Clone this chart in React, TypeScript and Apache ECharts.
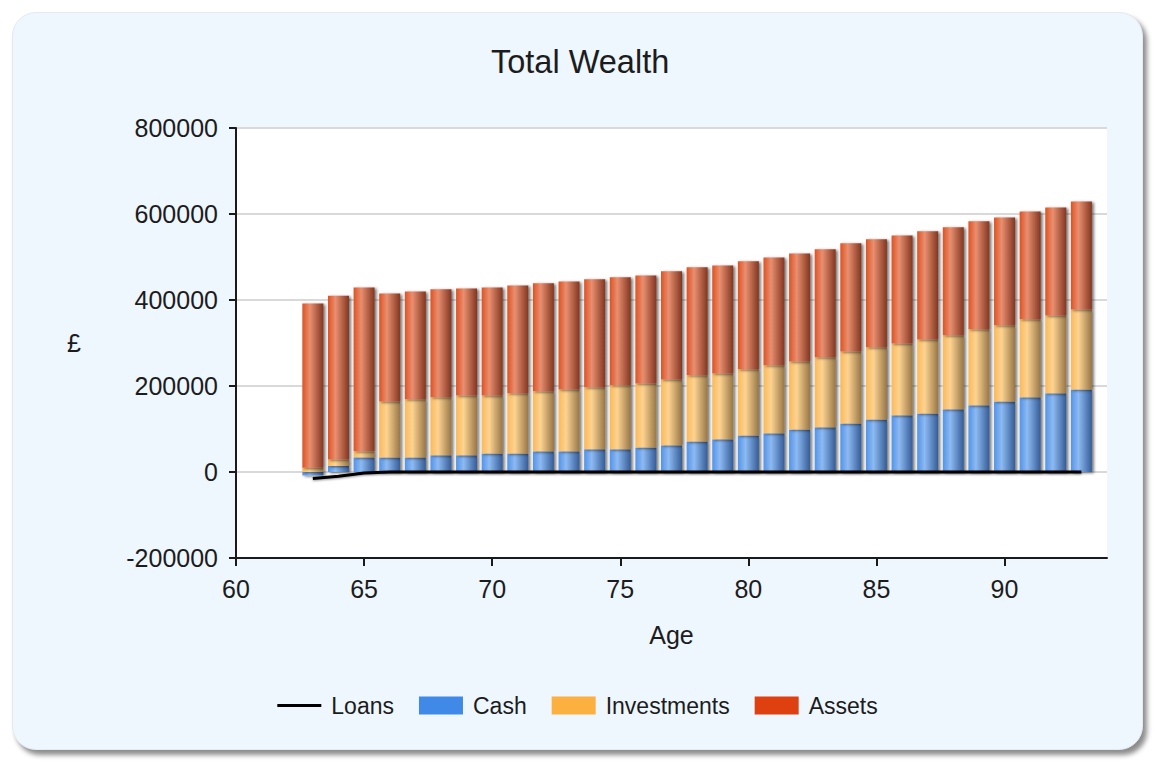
import React, { useEffect, useRef } from "react";
import * as echarts from "echarts";

// Ages along the horizontal axis (tick every 5 years)
const axisAges = [
  60, 61, 62, 63, 64, 65, 66, 67, 68, 69, 70, 71, 72, 73, 74, 75, 76, 77,
  78, 79, 80, 81, 82, 83, 84, 85, 86, 87, 88, 89, 90, 91, 92, 93, 94,
];

// Age of each year-end snapshot
const ages = [
  63, 64, 65, 66, 67, 68, 69, 70, 71, 72, 73, 74, 75, 76, 77, 78,
  79, 80, 81, 82, 83, 84, 85, 86, 87, 88, 89, 90, 91, 92, 93,
];

// Wealth components (£)
const cash = [
  -8000, 14000, 34000, 34000, 34000, 39000, 39000, 43000, 43000, 48000, 48000,
  53000, 53000, 57000, 62000, 71000, 76000, 85000, 90000, 99000, 104000, 113000,
  122000, 132000, 136000, 146000, 155000, 164000, 174000, 183000, 192000,
];
const investments = [
  10000, 15000, 14000, 130000, 135000, 135000, 139000, 135000, 140000, 140000,
  144000, 144000, 149000, 149000, 153000, 154000, 153000, 154000, 158000,
  158000, 163000, 167000, 168000, 167000, 172000, 172000, 177000, 177000,
  181000, 181000, 186000,
];
const assets = [
  382000, 381000, 381000, 251000, 251000, 251000, 249000, 251000, 251000,
  251000, 251000, 251000, 251000, 251000, 252000, 251000, 251000, 251000,
  251000, 251000, 251000, 252000, 251000, 251000, 252000, 251000, 251000,
  251000, 251000, 251000, 251000,
];
const loans = [
  -15000, -10000, -2500, 0, 0, 0, 0, 0, 0, 0, 0, 0, 0, 0, 0, 0, 0, 0, 0, 0, 0,
  0, 0, 0, 0, 0, 0, 0, 0, 0, 0,
];

const yTicks = { min: -200000, max: 800000, step: 200000 };
const X_LABEL_EVERY = 5;

const FONT = "'Liberation Sans', Arial, sans-serif";
const TEXT = "#1c1c1c";

// Horizontal "cylinder" shading for the bar segments
const shade = (left: string, light: string, right: string) =>
  new echarts.graphic.LinearGradient(0, 0, 1, 0, [
    { offset: 0, color: left },
    { offset: 0.36, color: light },
    { offset: 1, color: right },
  ]);

// Spread a per-snapshot series over the full age axis (empty where no data)
const onAxis = (vals: number[]) =>
  axisAges.map((a) => {
    const i = ages.indexOf(a);
    return i < 0 ? null : vals[i];
  });

export default function App() {
  const ref = useRef<HTMLDivElement>(null);

  useEffect(() => {
    document.body.style.margin = "0";
    if (!ref.current) return;
    const chart = echarts.init(ref.current, undefined, { renderer: "svg" });

    const barCommon = {
      type: "bar" as const,
      stack: "wealth",
      barWidth: 21,
      z: 2,
    };
    const barShadow = {
      shadowBlur: 3,
      shadowColor: "rgba(0,0,0,0.55)",
      shadowOffsetX: 2,
      shadowOffsetY: 1,
    };

    chart.setOption({
      animation: false,
      backgroundColor: "transparent",
      title: {
        text: "Total Wealth",
        left: 491,
        top: 45,
        padding: 0,
        textStyle: {
          fontFamily: FONT,
          fontSize: 32.5,
          fontWeight: "normal",
          color: TEXT,
        },
      },
      legend: {
        left: "center",
        top: 689,
        itemWidth: 44,
        itemHeight: 18,
        itemGap: 25,
        symbolKeepAspect: true,
        textStyle: {
          fontFamily: FONT,
          fontSize: 23,
          color: TEXT,
          padding: [0, 0, 0, 5],
        },
        data: [
          {
            name: "Loans",
            icon: "path://M0,0H44V3H0Z",
            itemStyle: { color: "#000000" },
          },
          { name: "Cash", icon: "rect", itemStyle: { color: "#4189e6" } },
          { name: "Investments", icon: "rect", itemStyle: { color: "#fbb040" } },
          { name: "Assets", icon: "rect", itemStyle: { color: "#df400f" } },
        ],
      },
      grid: {
        left: 236,
        top: 128,
        right: 48,
        bottom: 206,
        show: true,
        backgroundColor: "#ffffff",
        borderWidth: 0,
      },
      xAxis: {
        type: "category",
        data: axisAges,
        boundaryGap: false,
        name: "Age",
        nameLocation: "middle",
        nameGap: 64,
        nameTextStyle: { fontFamily: FONT, fontSize: 25, color: TEXT },
        axisLine: { onZero: false, lineStyle: { color: "#1a1a1a", width: 2 } },
        axisTick: {
          show: true,
          length: 8,
          interval: X_LABEL_EVERY - 1,
          lineStyle: { color: "#1a1a1a", width: 2 },
        },
        axisLabel: {
          interval: X_LABEL_EVERY - 1,
          fontFamily: FONT,
          fontSize: 25,
          color: TEXT,
          margin: 18,
        },
        splitLine: { show: false },
      },
      yAxis: {
        type: "value",
        min: yTicks.min,
        max: yTicks.max,
        interval: yTicks.step,
        name: "£",
        nameLocation: "middle",
        nameRotate: 0,
        nameGap: 155,
        nameTextStyle: { fontFamily: FONT, fontSize: 25, color: TEXT },
        axisLine: { show: true, lineStyle: { color: "#1a1a1a", width: 2 } },
        axisTick: { show: true, length: 7, lineStyle: { color: "#1a1a1a", width: 2 } },
        axisLabel: {
          fontFamily: FONT,
          fontSize: 25,
          color: TEXT,
          margin: 18,
          formatter: (v: number) => String(v),
        },
        splitLine: { show: true, lineStyle: { color: "#d9d9d9", width: 2 } },
      },
      series: [
        {
          name: "Loans",
          type: "line",
          data: onAxis(loans),
          symbol: "none",
          z: 4,
          color: "#000000",
          lineStyle: {
            color: "#000000",
            width: 3,
            shadowBlur: 2,
            shadowColor: "rgba(0,0,0,0.4)",
            shadowOffsetY: 1,
          },
        },
        {
          ...barCommon,
          name: "Cash",
          data: onAxis(cash),
          color: "#4189e6",
          itemStyle: {
            color: shade("#5393e8", "#8dbaf2", "#355c96"),
            ...barShadow,
          },
        },
        {
          ...barCommon,
          name: "Investments",
          data: onAxis(investments),
          color: "#fbb040",
          itemStyle: {
            color: shade("#fab95a", "#fdd391", "#977646"),
            ...barShadow,
          },
        },
        {
          ...barCommon,
          name: "Assets",
          data: onAxis(assets),
          color: "#df400f",
          itemStyle: {
            color: shade("#de5222", "#e98f70", "#823620"),
            ...barShadow,
          },
        },
      ],
    });

    return () => chart.dispose();
  }, []);

  return (
    <div style={{ position: "relative", width: 1155, height: 764, background: "#ffffff", overflow: "hidden" }}>
      <div
        style={{
          position: "absolute",
          left: 12,
          top: 12,
          width: 1131,
          height: 738,
          borderRadius: 24,
          background: "#eef6fe",
          border: "1px solid #e4eaf0",
          boxSizing: "border-box",
          boxShadow: "4px 5px 5px rgba(0,0,0,0.45)",
        }}
      />
      <div ref={ref} style={{ position: "absolute", left: 0, top: 0, width: 1155, height: 764 }} />
    </div>
  );
}
